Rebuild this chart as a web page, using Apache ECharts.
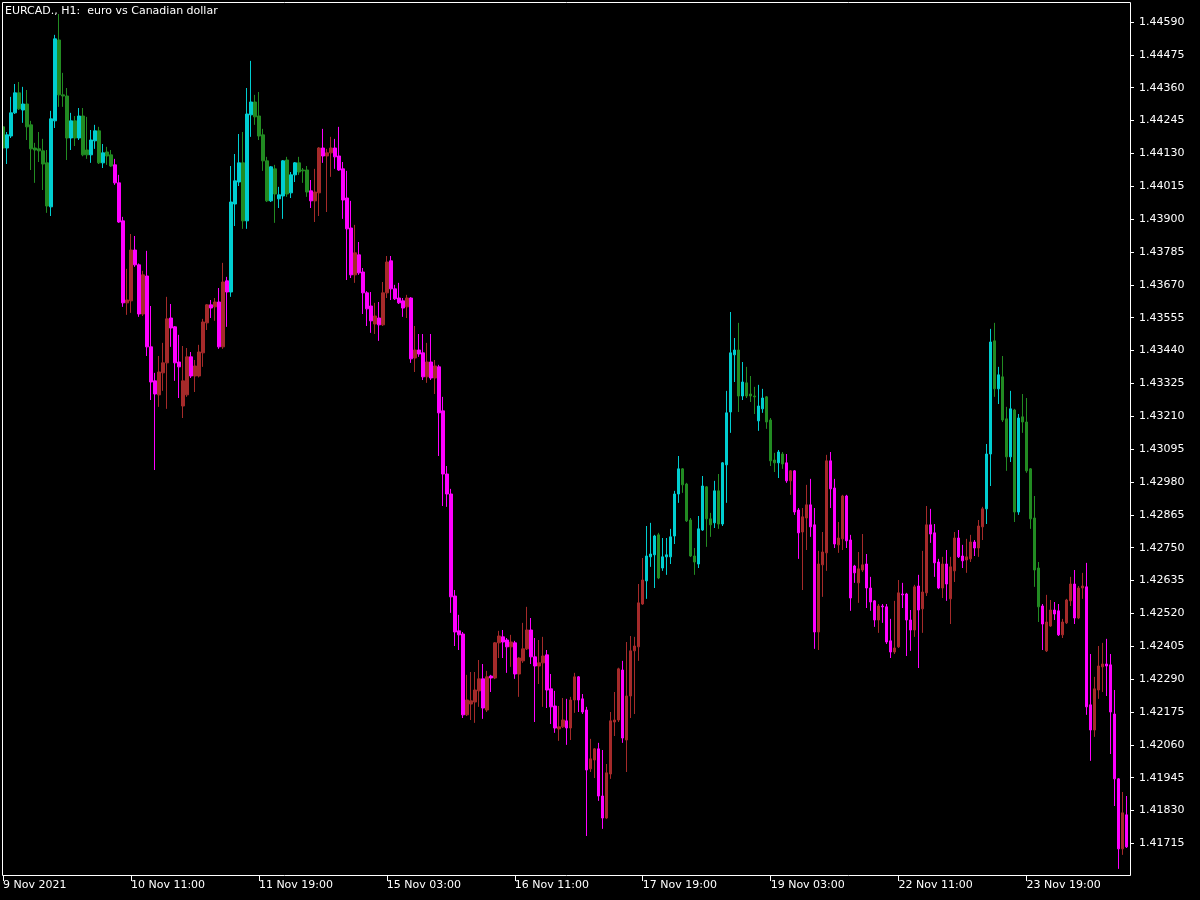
<!DOCTYPE html>
<html><head><meta charset="utf-8">
<script src="https://cdn.jsdelivr.net/npm/echarts@6/dist/echarts.min.js"></script>
<style>html,body{margin:0;padding:0;background:#000;}#c{width:1200px;height:900px;}</style>
</head><body><div id="c"></div>
<script>
const chartTitle = 'EURCAD., H1:  euro vs Canadian dollar';
const xTickLabels = ['9 Nov 2021','10 Nov 11:00','11 Nov 19:00','15 Nov 03:00','16 Nov 11:00','17 Nov 19:00','19 Nov 03:00','22 Nov 11:00','23 Nov 19:00'];
const yTickValues = [1.41715,1.41830,1.41945,1.42060,1.42175,1.42290,1.42405,1.42520,1.42635,1.42750,1.42865,1.42980,1.43095,1.43210,1.43325,1.43440,1.43555,1.43670,1.43785,1.43900,1.44015,1.44130,1.44245,1.44360,1.44475,1.44590];
// trend state runs: [state, number of bars]
const trendRuns = [['up',28],['down',29],['up',20],['down',84],['up',35],['down',50],['up',14],['down',22]];
// hourly candles: [open, close, low, high]
const candles = [
[1.44223,1.44149,1.44142,1.44230],[1.44149,1.44195,1.44093,1.44205],[1.44191,1.44272,1.44184,1.44328],[1.44272,1.44342,1.44268,1.44373],
[1.44342,1.44286,1.44282,1.44380],[1.44282,1.44303,1.44237,1.44363],[1.44303,1.44223,1.44177,1.44352],[1.44230,1.44146,1.44072,1.44244],
[1.44149,1.44142,1.44027,1.44167],[1.44146,1.44139,1.44100,1.44205],[1.44139,1.44093,1.44002,1.44181],[1.44097,1.43946,1.43922,1.44142],
[1.43943,1.44251,1.43911,1.44279],[1.44244,1.44531,1.44219,1.44545],[1.44527,1.44335,1.44293,1.44618],[1.44335,1.44331,1.44293,1.44412],
[1.44331,1.44184,1.44107,1.44359],[1.44184,1.44244,1.44142,1.44272],[1.44244,1.44184,1.44156,1.44261],[1.44184,1.44261,1.44177,1.44289],
[1.44261,1.44125,1.44120,1.44289],[1.44142,1.44125,1.44111,1.44258],[1.44125,1.44177,1.44097,1.44212],[1.44174,1.44209,1.44146,1.44230],
[1.44209,1.44097,1.44093,1.44223],[1.44097,1.44132,1.44079,1.44163],[1.44135,1.44121,1.44090,1.44153],[1.44125,1.44086,1.44083,1.44142],
[1.44090,1.44027,1.44020,1.44111],[1.44027,1.43890,1.43887,1.44055],[1.43894,1.43607,1.43593,1.43908],[1.43607,1.43617,1.43565,1.43726],
[1.43614,1.43792,1.43572,1.43848],[1.43792,1.43740,1.43733,1.43841],[1.43740,1.43568,1.43558,1.43745],[1.43568,1.43705,1.43561,1.43719],
[1.43701,1.43453,1.43421,1.43789],[1.43453,1.43330,1.43267,1.43596],[1.43334,1.43288,1.43022,1.43362],[1.43285,1.43365,1.43243,1.43421],
[1.43362,1.43397,1.43299,1.43467],[1.43397,1.43551,1.43236,1.43628],[1.43554,1.43519,1.43453,1.43603],[1.43523,1.43397,1.43334,1.43526],
[1.43400,1.43383,1.43274,1.43495],[1.43246,1.43334,1.43204,1.43456],[1.43285,1.43418,1.43278,1.43449],[1.43418,1.43351,1.43344,1.43435],
[1.43351,1.43386,1.43295,1.43407],[1.43351,1.43435,1.43346,1.43460],[1.43432,1.43540,1.43383,1.43551],[1.43537,1.43600,1.43512,1.43603],
[1.43600,1.43589,1.43554,1.43617],[1.43593,1.43610,1.43544,1.43624],[1.43610,1.43453,1.43446,1.43659],[1.43453,1.43680,1.43446,1.43747],
[1.43684,1.43645,1.43523,1.43698],[1.43645,1.43960,1.43628,1.44086],[1.43953,1.44034,1.43876,1.44128],[1.44030,1.44097,1.44016,1.44198],
[1.44097,1.43894,1.43866,1.44205],[1.43894,1.44268,1.43866,1.44359],[1.44265,1.44310,1.44188,1.44454],[1.44310,1.44258,1.44230,1.44335],
[1.44261,1.44191,1.44177,1.44345],[1.44195,1.44104,1.44069,1.44216],[1.44104,1.43964,1.43960,1.44118],[1.43964,1.44083,1.43960,1.44086],
[1.44076,1.43988,1.43887,1.44090],[1.43971,1.43985,1.43939,1.44013],[1.43981,1.44104,1.43901,1.44107],[1.44107,1.43988,1.43978,1.44118],
[1.43992,1.44055,1.43974,1.44065],[1.44055,1.44097,1.44030,1.44100],[1.44097,1.44065,1.44055,1.44118],[1.44072,1.44069,1.44027,1.44079],
[1.44072,1.43995,1.43978,1.44086],[1.43999,1.43964,1.43939,1.44037],[1.43964,1.43995,1.43890,1.44076],[1.43992,1.44149,1.43911,1.44152],
[1.44149,1.44121,1.44097,1.44216],[1.44121,1.44132,1.43925,1.44146],[1.44132,1.44149,1.44048,1.44188],[1.44149,1.44118,1.44076,1.44181],
[1.44121,1.44072,1.44069,1.44223],[1.44076,1.43967,1.43901,1.44100],[1.43974,1.43866,1.43687,1.44069],[1.43869,1.43705,1.43694,1.43964],
[1.43705,1.43782,1.43677,1.43880],[1.43775,1.43712,1.43705,1.43820],[1.43715,1.43642,1.43568,1.43729],[1.43642,1.43586,1.43526,1.43648],
[1.43596,1.43544,1.43502,1.43645],[1.43533,1.43561,1.43498,1.43607],[1.43554,1.43530,1.43474,1.43610],[1.43530,1.43642,1.43526,1.43680],
[1.43642,1.43750,1.43624,1.43771],[1.43754,1.43656,1.43617,1.43771],[1.43656,1.43621,1.43617,1.43670],[1.43624,1.43607,1.43603,1.43677],
[1.43614,1.43589,1.43558,1.43624],[1.43593,1.43624,1.43554,1.43635],[1.43624,1.43411,1.43397,1.43627],[1.43414,1.43442,1.43365,1.43526],
[1.43442,1.43428,1.43418,1.43498],[1.43432,1.43348,1.43337,1.43498],[1.43348,1.43400,1.43327,1.43467],[1.43400,1.43344,1.43337,1.43498],
[1.43344,1.43386,1.43288,1.43407],[1.43383,1.43222,1.43071,1.43390],[1.43229,1.43008,1.42896,1.43278],[1.43008,1.42938,1.42893,1.43036],
[1.42938,1.42578,1.42522,1.42956],[1.42581,1.42455,1.42406,1.42602],[1.42459,1.42445,1.42392,1.42515],[1.42448,1.42165,1.42154,1.42455],
[1.42165,1.42217,1.42161,1.42305],[1.42203,1.42214,1.42147,1.42315],[1.42210,1.42252,1.42137,1.42315],[1.42249,1.42291,1.42193,1.42357],
[1.42291,1.42189,1.42151,1.42343],[1.42182,1.42298,1.42175,1.42319],[1.42301,1.42294,1.42245,1.42305],[1.42294,1.42417,1.42290,1.42420],
[1.42417,1.42441,1.42364,1.42459],[1.42438,1.42420,1.42364,1.42462],[1.42427,1.42403,1.42312,1.42434],[1.42403,1.42420,1.42333,1.42445],
[1.42417,1.42308,1.42291,1.42424],[1.42308,1.42364,1.42228,1.42367],[1.42354,1.42396,1.42347,1.42487],[1.42396,1.42462,1.42392,1.42543],
[1.42462,1.42368,1.42343,1.42504],[1.42368,1.42336,1.42140,1.42434],[1.42336,1.42347,1.42273,1.42427],[1.42347,1.42371,1.42193,1.42438],
[1.42375,1.42252,1.42189,1.42392],[1.42256,1.42193,1.42133,1.42308],[1.42196,1.42119,1.42102,1.42249],[1.42116,1.42123,1.42074,1.42196],
[1.42123,1.42147,1.42119,1.42224],[1.42144,1.42119,1.42060,1.42221],[1.42119,1.42217,1.42077,1.42228],[1.42217,1.42298,1.42172,1.42312],
[1.42298,1.42217,1.42175,1.42301],[1.42221,1.42175,1.42168,1.42238],[1.42182,1.41972,1.41741,1.42193],[1.41976,1.42011,1.41965,1.42081],
[1.42007,1.42046,1.41944,1.42049],[1.42046,1.41881,1.41864,1.42067],[1.41881,1.41804,1.41766,1.42042],[1.41804,1.41962,1.41801,1.41993],
[1.41958,1.42144,1.41941,1.42175],[1.42140,1.42147,1.42091,1.42245],[1.42147,1.42326,1.42140,1.42330],[1.42322,1.42084,1.42067,1.42354],
[1.42077,1.42231,1.41965,1.42420],[1.42231,1.42389,1.42154,1.42441],[1.42389,1.42406,1.42168,1.42438],[1.42403,1.42557,1.42354,1.42623],
[1.42553,1.42637,1.42550,1.42714],[1.42634,1.42721,1.42571,1.42826],[1.42718,1.42728,1.42683,1.42837],[1.42725,1.42791,1.42609,1.42795],
[1.42795,1.42644,1.42640,1.42802],[1.42679,1.42718,1.42669,1.42784],[1.42718,1.42725,1.42655,1.42784],[1.42718,1.42788,1.42693,1.42816],
[1.42791,1.42938,1.42763,1.42949],[1.42938,1.43026,1.42907,1.43071],[1.43026,1.42970,1.42942,1.43029],[1.42973,1.42844,1.42840,1.42977],
[1.42847,1.42721,1.42718,1.42854],[1.42721,1.42700,1.42655,1.42749],[1.42693,1.42816,1.42679,1.42861],[1.42812,1.42966,1.42809,1.43001],
[1.42963,1.42851,1.42753,1.42966],[1.42851,1.42830,1.42788,1.42872],[1.42837,1.42949,1.42819,1.42984],[1.42949,1.42833,1.42816,1.43008],
[1.42833,1.43047,1.42826,1.43050],[1.43040,1.43222,1.42907,1.43299],[1.43225,1.43432,1.43152,1.43575],[1.43425,1.43442,1.43330,1.43484],
[1.43442,1.43281,1.43225,1.43537],[1.43281,1.43330,1.43267,1.43400],[1.43327,1.43281,1.43274,1.43383],[1.43288,1.43281,1.43260,1.43351],
[1.43281,1.43278,1.43218,1.43313],[1.43194,1.43246,1.43159,1.43320],[1.43236,1.43274,1.43222,1.43306],[1.43278,1.43190,1.43166,1.43281],
[1.43197,1.43054,1.43036,1.43204],[1.43057,1.43047,1.43015,1.43082],[1.43047,1.43085,1.42994,1.43092],[1.43078,1.43043,1.43026,1.43085],
[1.43047,1.42984,1.42977,1.43078],[1.42984,1.43019,1.42935,1.43022],[1.43019,1.42875,1.42865,1.43022],[1.42882,1.42802,1.42711,1.42889],
[1.42805,1.42858,1.42602,1.42889],[1.42854,1.42900,1.42742,1.42970],[1.42900,1.42823,1.42788,1.42991],[1.42830,1.42455,1.42396,1.42889],
[1.42455,1.42693,1.42392,1.42739],[1.42690,1.42735,1.42578,1.42805],[1.42732,1.43054,1.42669,1.43075],[1.43054,1.42956,1.42889,1.43085],
[1.42959,1.42763,1.42749,1.42991],[1.42760,1.42784,1.42732,1.42840],[1.42781,1.42931,1.42742,1.42935],[1.42931,1.42774,1.42749,1.42935],
[1.42777,1.42574,1.42529,1.42795],[1.42686,1.42662,1.42627,1.42690],[1.42627,1.42676,1.42557,1.42735],[1.42672,1.42690,1.42665,1.42798],
[1.42693,1.42609,1.42539,1.42728],[1.42609,1.42560,1.42529,1.42648],[1.42564,1.42497,1.42473,1.42567],[1.42497,1.42546,1.42452,1.42553],
[1.42546,1.42543,1.42487,1.42553],[1.42543,1.42420,1.42413,1.42553],[1.42424,1.42385,1.42364,1.42501],[1.42385,1.42399,1.42378,1.42564],
[1.42403,1.42592,1.42399,1.42637],[1.42588,1.42585,1.42539,1.42627],[1.42588,1.42497,1.42371,1.42592],[1.42497,1.42462,1.42389,1.42532],
[1.42462,1.42613,1.42438,1.42620],[1.42616,1.42532,1.42329,1.42655],[1.42536,1.42595,1.42452,1.42739],[1.42592,1.42830,1.42581,1.42896],
[1.42830,1.42798,1.42767,1.42886],[1.42802,1.42697,1.42648,1.42833],[1.42700,1.42609,1.42605,1.42711],[1.42609,1.42693,1.42574,1.42718],
[1.42693,1.42623,1.42564,1.42742],[1.42571,1.42683,1.42483,1.42718],[1.42669,1.42784,1.42630,1.42805],[1.42784,1.42718,1.42714,1.42812],
[1.42721,1.42704,1.42679,1.42760],[1.42707,1.42718,1.42662,1.42781],[1.42711,1.42770,1.42700,1.42795],[1.42770,1.42749,1.42721,1.42777],
[1.42749,1.42826,1.42718,1.42847],[1.42823,1.42886,1.42777,1.42893],[1.42886,1.43078,1.42833,1.43113],[1.43078,1.43470,1.42966,1.43516],
[1.43474,1.43306,1.43278,1.43537],[1.43306,1.43355,1.43253,1.43383],[1.43348,1.43197,1.43190,1.43421],[1.43201,1.43068,1.43019,1.43243],
[1.43068,1.43236,1.43050,1.43299],[1.43232,1.42875,1.42840,1.43236],[1.42875,1.43204,1.42865,1.43218],[1.43208,1.43190,1.43152,1.43288],
[1.43190,1.43019,1.43012,1.43274],[1.43026,1.42851,1.42816,1.43029],[1.42854,1.42672,1.42613,1.42931],[1.42679,1.42543,1.42490,1.42700],
[1.42546,1.42483,1.42392,1.42553],[1.42389,1.42490,1.42385,1.42585],[1.42476,1.42532,1.42473,1.42567],[1.42532,1.42518,1.42497,1.42560],
[1.42529,1.42445,1.42441,1.42553],[1.42445,1.42490,1.42434,1.42501],[1.42487,1.42567,1.42483,1.42571],[1.42564,1.42623,1.42546,1.42648],
[1.42623,1.42504,1.42483,1.42672],[1.42504,1.42609,1.42500,1.42616],[1.42609,1.42616,1.42571,1.42662],[1.42613,1.42193,1.42165,1.42697],
[1.42200,1.42112,1.42004,1.42378],[1.42112,1.42256,1.42088,1.42298],[1.42252,1.42336,1.42221,1.42406],[1.42333,1.42343,1.42245,1.42417],
[1.42343,1.42336,1.42231,1.42431],[1.42340,1.42175,1.42028,1.42378],[1.42168,1.41941,1.41846,1.42252],[1.41941,1.41696,1.41626,1.41944],
[1.41696,1.41822,1.41675,1.41895],[1.41815,1.41703,1.41699,1.41881]
];

const COLORS = { up: { bull: '#00CED1', bear: '#228B22' }, down: { bull: '#A52A2A', bear: '#FF00FF' } };
const FONT = 'DejaVu Sans';

// hourly category times (weekend hours skipped)
const categories = [];
(function () {
  const mon = ['Jan','Feb','Mar','Apr','May','Jun','Jul','Aug','Sep','Oct','Nov','Dec'];
  let t = Date.UTC(2021, 10, 9, 3);
  for (let i = 0; i < candles.length; i++) {
    const d = new Date(t);
    categories.push(d.getUTCDate() + ' ' + mon[d.getUTCMonth()] + ' ' + String(d.getUTCHours()).padStart(2, '0') + ':00');
    t += 3600000;
    const nd = new Date(t);
    if (nd.getUTCDay() === 6) t += 2 * 86400000;
  }
})();

const trend = [];
trendRuns.forEach(([s, n]) => { for (let i = 0; i < n; i++) trend.push(s); });

const seriesData = candles.map((c, i) => {
  const col = COLORS[trend[i]][c[1] >= c[0] ? 'bull' : 'bear'];
  return { value: c, itemStyle: { color: col, color0: col, borderColor: col, borderColor0: col, borderWidth: 1 } };
});

const chart = echarts.init(document.getElementById('c'), null, { renderer: 'canvas' });
chart.setOption({
  backgroundColor: '#000',
  animation: false,
  title: {
    text: chartTitle, left: 5, top: 6, padding: 0,
    textStyle: { color: '#fff', fontSize: 11, fontWeight: 'normal', fontFamily: FONT }
  },
  grid: { left: 0.5, top: 2, width: 1128, height: 874, containLabel: false },
  xAxis: {
    type: 'category', data: categories, boundaryGap: true,
    axisLine: { show: false },
    axisTick: { show: true, interval: 31, alignWithLabel: true, length: 5, lineStyle: { color: '#fff' } },
    axisLabel: {
      interval: 31, align: 'left', color: '#fff', fontSize: 11, fontFamily: FONT, margin: 4,
      formatter: (v, idx) => (idx % 32 === 0 ? xTickLabels[idx / 32] : '')
    },
    splitLine: { show: false }
  },
  yAxis: {
    type: 'value', position: 'right', offset: 1.5, scale: true,
    min: 1.41601, max: 1.44660,
    axisLine: { show: false },
    axisTick: { show: true, length: 4, customValues: yTickValues, lineStyle: { color: '#fff' } },
    axisLabel: {
      customValues: yTickValues, color: '#fff', fontSize: 11, fontFamily: FONT, margin: 9,
      formatter: v => v.toFixed(5)
    },
    splitLine: { show: false }
  },
  series: [{
    type: 'candlestick', data: seriesData, barWidth: 3,
    itemStyle: { borderWidth: 1 },
    emphasis: { disabled: true }
  }],
  graphic: [
    { type: 'rect', z: 100, silent: true, shape: { x: 0, y: 0, width: 2, height: 900 }, style: { fill: '#000' } },
    { type: 'rect', z: 101, silent: true, shape: { x: 2.5, y: 2.5, width: 1128, height: 873 }, style: { fill: null, stroke: '#fff', lineWidth: 1 } }
  ]
});
</script>
</body></html>
